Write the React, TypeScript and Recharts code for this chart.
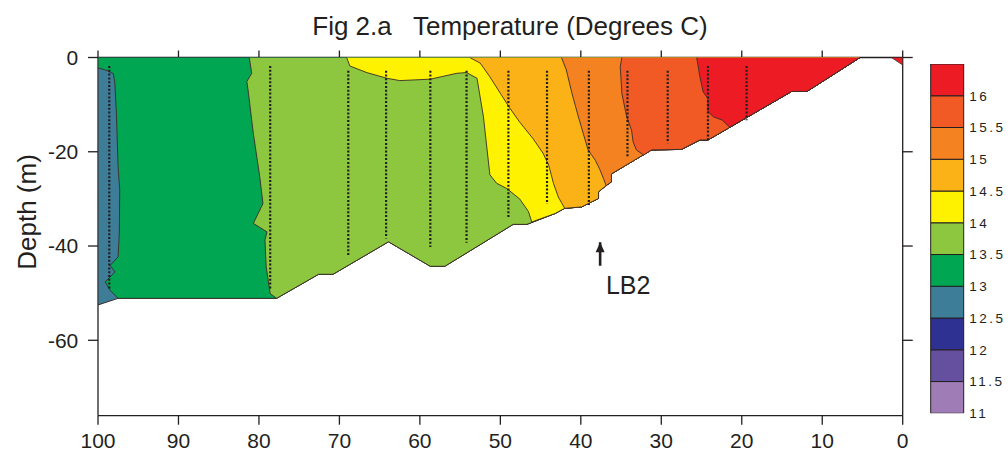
// temperature section, fig 2.a

import { ScatterChart, Scatter, XAxis, YAxis, BarChart, Bar } from "recharts";

const FONT = "'Liberation Sans', Arial, Helvetica, sans-serif";
const INK = "#231f20";
const EDGE = "#3a2c28";

// colour scale, coldest band first
const levels = [11, 11.5, 12, 12.5, 13, 13.5, 14, 14.5, 15, 15.5, 16];
const bandTop = 16.5;
const bandColors = ["#a07cb7", "#654f9f", "#2e3192", "#3e7d97", "#00a651", "#8dc63f", "#fff200", "#fbb216", "#f58220", "#f15a24", "#ed1c24"];

const xTicks = [0, 10, 20, 30, 40, 50, 60, 70, 80, 90, 100];
const yTicks = [0, -20, -40, -60];

// sea bed, from the left edge (100) to where it meets the surface
const seabed = [
  { x: 100, d: -52.5 },
  { x: 97.5, d: -51.1 },
  { x: 77.8, d: -51.1 },
  { x: 72.6, d: -46.0 },
  { x: 70.8, d: -46.0 },
  { x: 63.9, d: -39.1 },
  { x: 58.7, d: -44.3 },
  { x: 56.9, d: -44.3 },
  { x: 48.4, d: -35.4 },
  { x: 46.7, d: -35.4 },
  { x: 43.2, d: -33.1 },
  { x: 42.0, d: -32.0 },
  { x: 39.9, d: -31.7 },
  { x: 37.8, d: -29.9 },
  { x: 37.8, d: -28.5 },
  { x: 36.8, d: -27.1 },
  { x: 36.2, d: -26.4 },
  { x: 36.2, d: -24.7 },
  { x: 31.2, d: -19.6 },
  { x: 27.5, d: -19.5 },
  { x: 25.2, d: -17.5 },
  { x: 24.2, d: -17.5 },
  { x: 13.8, d: -7.2 },
  { x: 11.9, d: -7.2 },
  { x: 5.3, d: 0 },
];

// isotherms, surface -> bottom
const contour13 = [
  { x: 100, d: 0 }, { x: 100, d: -2.2 }, { x: 99.0, d: -2.7 }, { x: 98.1, d: -3.4 }, { x: 97.9, d: -5.5 },
  { x: 97.7, d: -12.6 }, { x: 97.5, d: -23.2 }, { x: 97.3, d: -28.1 }, { x: 97.35, d: -37.3 },
  { x: 97.5, d: -42.3 }, { x: 98.5, d: -44.1 }, { x: 97.9, d: -45.5 }, { x: 99.1, d: -47.6 },
  { x: 98.5, d: -49.4 }, { x: 97.5, d: -51.1 },
];
const contour135 = [
  { x: 81.2, d: 0 }, { x: 80.9, d: -3.35 }, { x: 81.5, d: -5.1 }, { x: 81.3, d: -7.6 },
  { x: 80.7, d: -16.1 }, { x: 79.9, d: -25.3 }, { x: 79.5, d: -31.0 }, { x: 80.7, d: -35.2 },
  { x: 79.0, d: -37.0 }, { x: 79.25, d: -38.7 }, { x: 79.1, d: -44.4 }, { x: 78.6, d: -50.1 },
  { x: 77.8, d: -51.1 },
];
const contour14 = [
  { x: 69.1, d: 0 }, { x: 68.7, d: -1.8 }, { x: 66.6, d: -3.2 }, { x: 64.1, d: -4.4 },
  { x: 62.5, d: -4.9 }, { x: 58.7, d: -4.6 }, { x: 55.4, d: -3.35 }, { x: 54.2, d: -3.2 },
  { x: 52.9, d: -4.4 }, { x: 52.1, d: -12.6 }, { x: 51.3, d: -24.9 }, { x: 50.45, d: -26.7 },
  { x: 49.2, d: -27.8 }, { x: 47.6, d: -30.0 }, { x: 46.5, d: -32.7 }, { x: 46.1, d: -34.9 },
];
const contour145 = [
  { x: 53.8, d: 0 }, { x: 52.5, d: -1.2 }, { x: 51.3, d: -4.1 }, { x: 50.0, d: -7.6 },
  { x: 48.8, d: -10.8 }, { x: 47.6, d: -13.7 }, { x: 45.9, d: -17.3 }, { x: 44.7, d: -20.3 },
  { x: 44.0, d: -22.8 }, { x: 43.4, d: -26.7 }, { x: 42.8, d: -29.6 }, { x: 42.0, d: -32.0 },
];
const contour15 = [
  { x: 42.4, d: 0 }, { x: 41.8, d: -2.65 }, { x: 41.1, d: -7.6 }, { x: 40.3, d: -12.6 },
  { x: 39.7, d: -16.1 }, { x: 39.1, d: -19.6 }, { x: 38.2, d: -21.8 }, { x: 37.6, d: -23.9 },
  { x: 37.2, d: -25.6 }, { x: 36.85, d: -27.2 },
];
const contour155 = [
  { x: 34.9, d: 0 }, { x: 35.1, d: -1.95 }, { x: 34.9, d: -7.6 }, { x: 34.3, d: -12.6 },
  { x: 33.7, d: -15.4 }, { x: 33.5, d: -17.9 }, { x: 33.1, d: -19.6 }, { x: 32.2, d: -20.7 },
];
const contour16 = [
  { x: 25.6, d: 0 }, { x: 25.2, d: -4.1 }, { x: 24.8, d: -7.3 }, { x: 24.2, d: -8.7 },
  { x: 24.2, d: -11.5 }, { x: 23.5, d: -12.6 }, { x: 22.4, d: -13.3 }, { x: 21.5, d: -14.8 },
];
// little warm patch against the right edge
const edgeWedge = [{ x: 1.4, d: 0 }, { x: 0, d: -1.6 }, { x: 0, d: 0 }];

const isotherms = [
  { level: 13, line: contour13 },
  { level: 13.5, line: contour135 },
  { level: 14, line: contour14 },
  { level: 14.5, line: contour145 },
  { level: 15, line: contour15 },
  { level: 15.5, line: contour155 },
  { level: 16, line: contour16 },
];

// CTD casts (dotted)
const stations = [
  { x: 98.6, top: -1.8, bottom: -49.0 },
  { x: 78.6, top: -1.8, bottom: -49.4 },
  { x: 68.9, top: -2.8, bottom: -42.1 },
  { x: 64.2, top: -2.8, bottom: -38.4 },
  { x: 58.7, top: -2.8, bottom: -40.2 },
  { x: 54.2, top: -2.8, bottom: -39.3 },
  { x: 49.0, top: -2.8, bottom: -34.1 },
  { x: 44.2, top: -2.8, bottom: -31.1 },
  { x: 39.0, top: -2.8, bottom: -31.3 },
  { x: 34.2, top: -2.8, bottom: -21.2 },
  { x: 29.2, top: -2.8, bottom: -18.2 },
  { x: 24.2, top: -1.8, bottom: -17.5 },
  { x: 19.4, top: -1.8, bottom: -13.3 },
];

const lb2 = [{ x: 37.6, d: -44.2 }, { x: 37.6, d: -39.2, tip: true }];

const colorOf = (level: number) => bandColors[levels.indexOf(level)];

// region warmer than the isotherm: the line, then the sea bed on to the surface
const warmSide = (line: { x: number; d: number }[]) => {
  const end = line[line.length - 1].x;
  return [...line, ...seabed.filter((p) => p.x < end)];
};

const noDot = () => <g />;

function ArrowTip(props: any) {
  const { cx, cy, payload } = props;
  if (!payload.tip) return <g />;
  return (
    <g>
      <polygon points={`${cx},${cy} ${cx - 4.5},${cy + 10} ${cx + 4.5},${cy + 10}`} fill={INK} />
      <text x={cx + 28} y={cy + 52} textAnchor="middle" fontSize={25} fontFamily={FONT} fill={INK}>
        LB2
      </text>
    </g>
  );
}

// colour bar rows
const barRow: Record<string, number> = { name: 0, base: levels[0] };
levels.forEach((lv, i) => {
  barRow["b" + i] = (i + 1 < levels.length ? levels[i + 1] : bandTop) - lv;
});

export default function App() {
  const axisTick = { fontSize: 21, fill: INK, fontFamily: FONT };
  const frame = { stroke: INK, strokeWidth: 1.3 };

  return (
    <div style={{ position: "absolute", left: 0, top: 0, width: 1008, height: 453, background: "#fff", fontFamily: FONT }}>

      <div style={{ position: "absolute", left: 510, top: 13, transform: "translateX(-50%)", fontSize: 26, lineHeight: "26px", color: INK, whiteSpace: "pre" }}>
        {"Fig 2.a   Temperature (Degrees C)"}
      </div>

      <div style={{ position: "absolute", left: 27, top: 212, transform: "translate(-50%, -50%) rotate(-90deg)", fontSize: 26, lineHeight: "26px", color: INK, whiteSpace: "nowrap" }}>
        Depth (m)
      </div>

      <div style={{ position: "absolute", left: 0, top: 0 }}>
        <ScatterChart width={1008} height={453} margin={{ top: 47.5, right: 95.3, bottom: 7.3, left: 38 }}>

          <XAxis dataKey="x" type="number" domain={[0, 100]} reversed allowDataOverflow ticks={xTicks}
            height={30} tickSize={9} tickMargin={8.6} tick={axisTick} axisLine={frame} tickLine={frame} />
          <XAxis xAxisId="top" orientation="top" dataKey="x" type="number" domain={[0, 100]} reversed allowDataOverflow
            ticks={xTicks} height={10} tickSize={7} tick={noDot} axisLine={frame} tickLine={frame} />
          <YAxis dataKey="d" type="number" domain={[-76, 0]} allowDataOverflow ticks={yTicks}
            width={60} tickSize={10} tickMargin={9.7} tick={axisTick} axisLine={frame} tickLine={frame} />
          <YAxis yAxisId="right" orientation="right" dataKey="d" type="number" domain={[-76, 0]} allowDataOverflow
            ticks={yTicks} width={10} tickSize={10} tick={noDot} axisLine={frame} tickLine={frame} />

          {/* whole section in the coldest colour first */}
          <Scatter data={[{ x: 100, d: 0 }, ...seabed]} shape={noDot} isAnimationActive={false}
            line={{ fill: colorOf(12.5), stroke: EDGE, strokeWidth: 1 }} />

          {isotherms.map((iso) => (
            <Scatter key={iso.level} data={warmSide(iso.line)} shape={noDot} isAnimationActive={false}
              line={{ fill: colorOf(iso.level), stroke: EDGE, strokeWidth: 0.9 }} />
          ))}

          {/* same patch also bound to the top / right frame axes */}
          <Scatter xAxisId="top" yAxisId="right" data={edgeWedge} shape={noDot} isAnimationActive={false}
            line={{ fill: colorOf(16), stroke: EDGE, strokeWidth: 0.8 }} />

          {stations.map((s) => (
            <Scatter key={"st" + s.x} data={[{ x: s.x, d: s.top }, { x: s.x, d: s.bottom }]} shape={noDot}
              isAnimationActive={false}
              line={{ stroke: INK, strokeWidth: 2.2, strokeDasharray: "2 1.8", fill: "none" }} />
          ))}

          <Scatter data={lb2} shape={ArrowTip} isAnimationActive={false}
            line={{ stroke: INK, strokeWidth: 2.6, fill: "none" }} />
        </ScatterChart>
      </div>

      {/* colour bar */}
      <div style={{ position: "absolute", left: 900, top: 0 }}>
        <BarChart width={108} height={453} data={[barRow]} barCategoryGap={0}
          margin={{ top: 64, right: 0, bottom: 39.7, left: 30.7 }}>
          <XAxis dataKey="name" hide />
          <YAxis orientation="right" type="number" domain={[levels[0], bandTop]} allowDataOverflow ticks={levels}
            width={44.7} axisLine={false} tickLine={false} tickSize={0} tickMargin={6}
            tick={{ fontSize: 13.5, fill: INK, fontFamily: FONT, letterSpacing: 2.5 }} />
          <Bar dataKey="base" stackId="c" fill="none" isAnimationActive={false} />
          {levels.map((lv, i) => (
            <Bar key={lv} dataKey={"b" + i} stackId="c" fill={bandColors[i]} stroke={INK} strokeWidth={1}
              isAnimationActive={false} />
          ))}
        </BarChart>
      </div>
    </div>
  );
}
